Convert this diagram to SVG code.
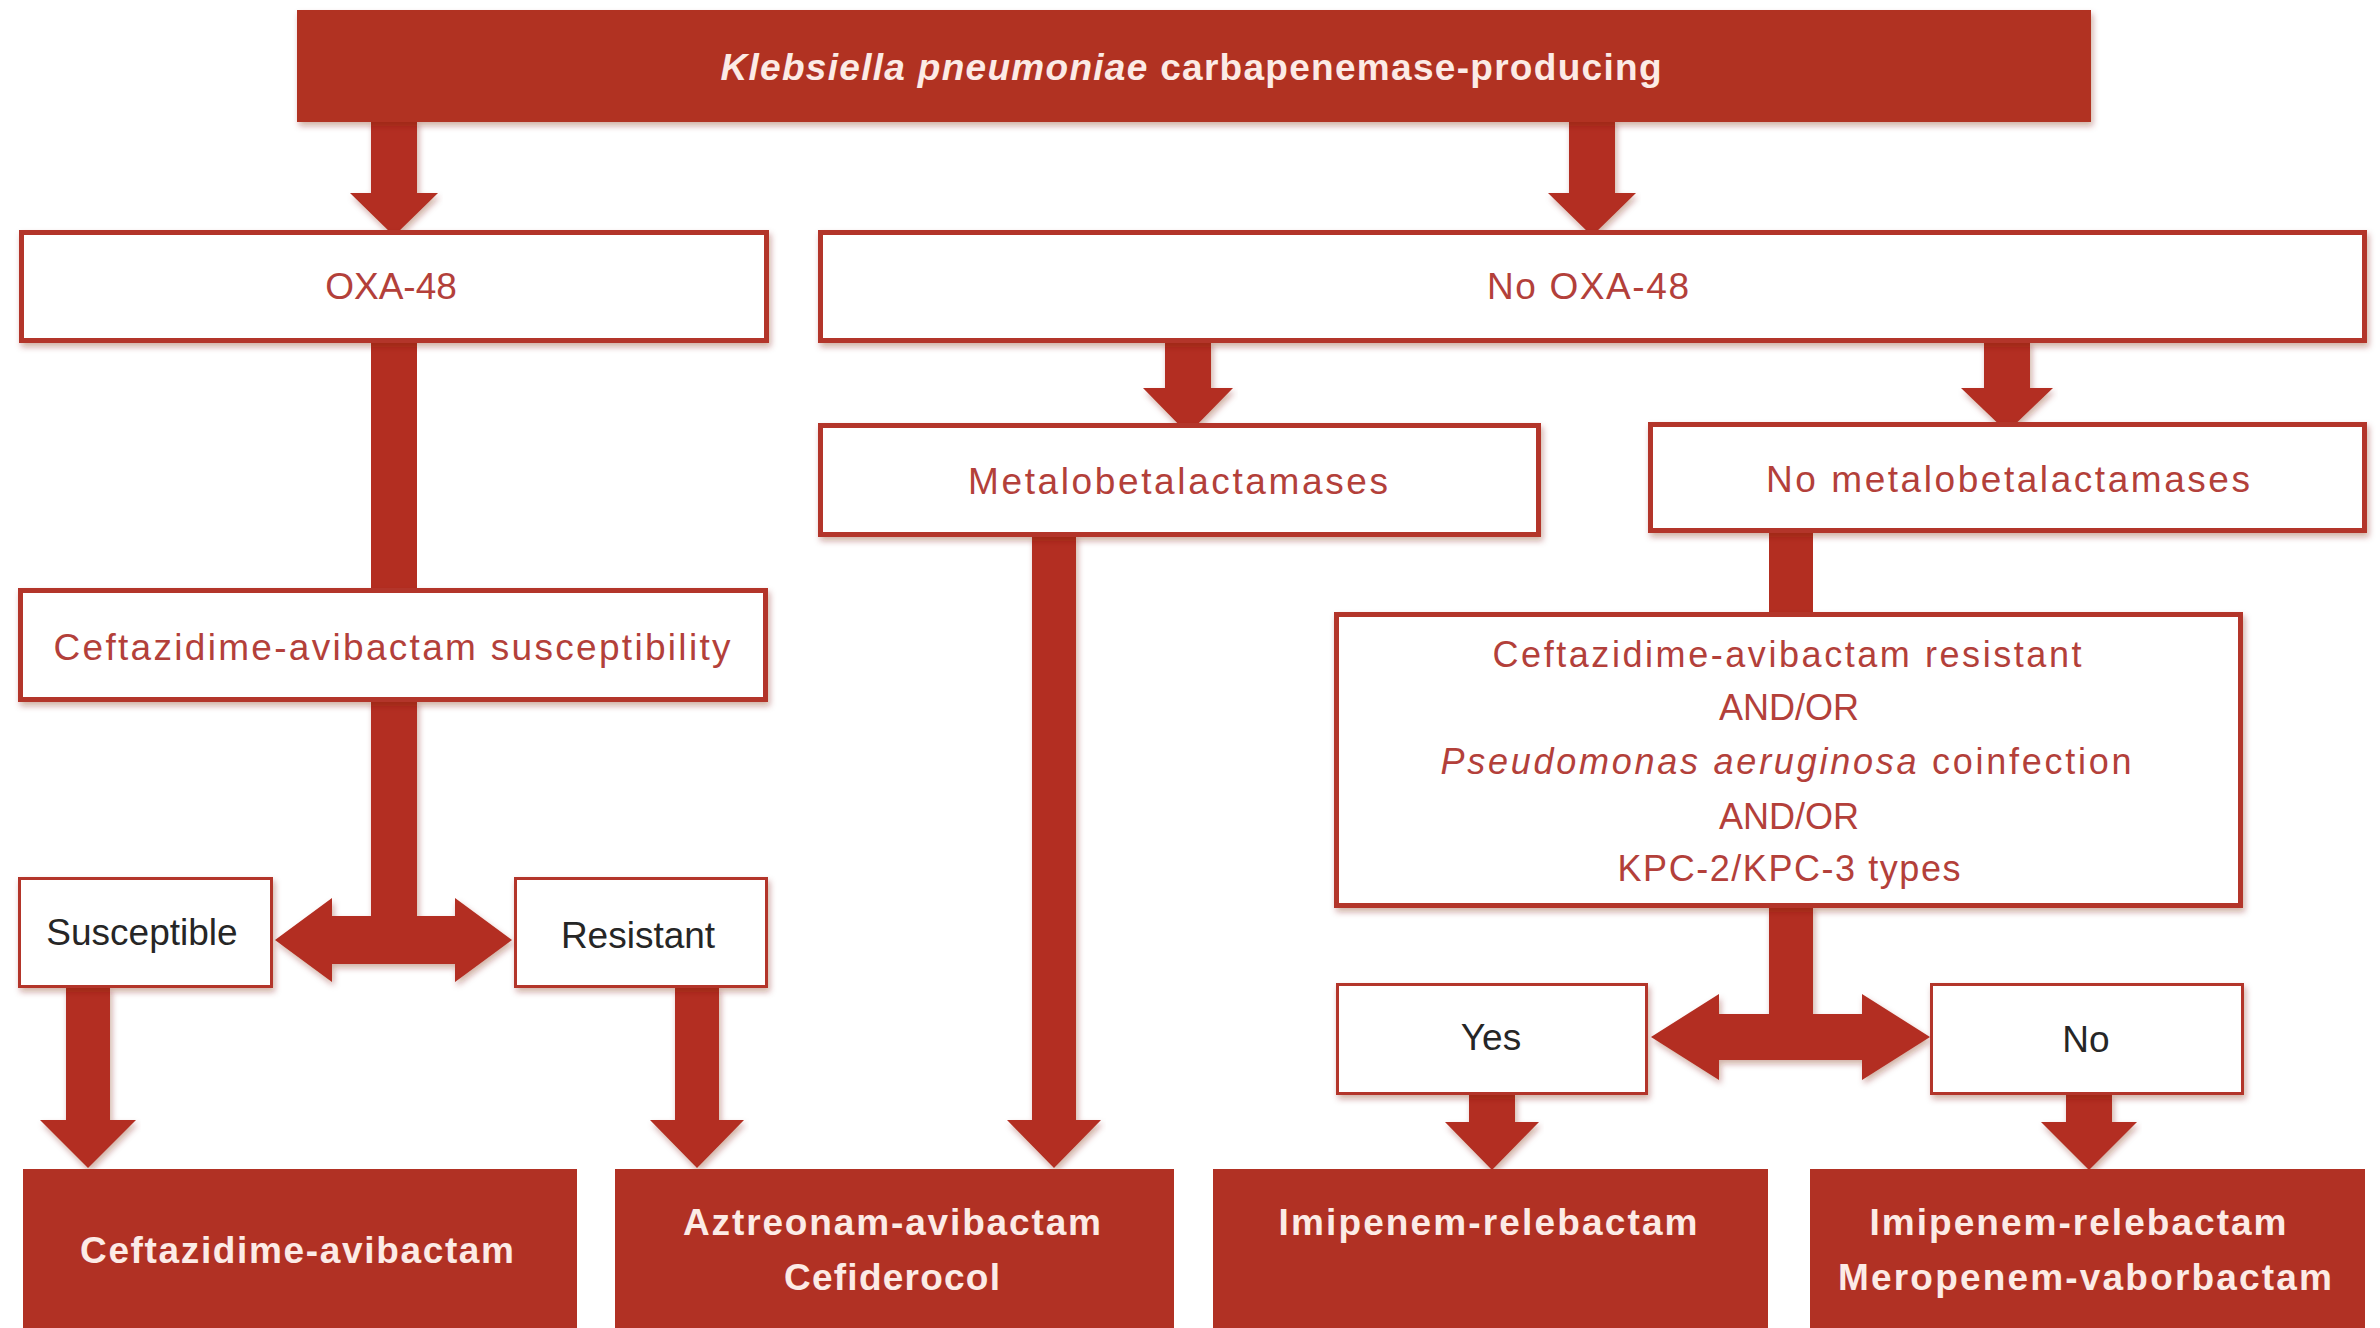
<svg xmlns="http://www.w3.org/2000/svg" width="2380" height="1328" viewBox="0 0 2380 1328">
<defs>
<filter id="sh" x="-5%" y="-10%" width="110%" height="130%">
<feDropShadow dx="2" dy="4" stdDeviation="3" flood-color="#7a1a10" flood-opacity="0.35"/>
</filter>
<style>
.fill{fill:#b13124;}
.arrow{fill:#b32e21;}
.wbox{fill:#ffffff;stroke:#b3352a;stroke-width:5;}
.wbox2{fill:#ffffff;stroke:#b3352a;stroke-width:3;}
text{font-family:"Liberation Sans",Arial,sans-serif;text-anchor:middle;}
.red{fill:#b3403a;font-size:37px;}
.red2{fill:#b3403a;font-size:36px;}
.blk{fill:#262626;font-size:37px;}
.wht{fill:#fcebe6;font-size:37px;font-weight:bold;}
.it{font-style:italic;}
</style>
</defs>
<rect width="2380" height="1328" fill="#ffffff"/>

<g id="connectors">
<polygon class="arrow" filter="url(#sh)" points="371,120 417,120 417,193 438,193 394,236 350,193 371,193"/>
<polygon class="arrow" filter="url(#sh)" points="1569,120 1615,120 1615,193 1636,193 1592,236 1548,193 1569,193"/>
<rect class="arrow" x="371" y="342" width="46" height="248"/>
<polygon class="arrow" filter="url(#sh)" points="275,940 332,898 332,916 371,916 371,700 417,700 417,916 455,916 455,898 512,940 455,982 455,964 332,964 332,982"/>
<polygon class="arrow" filter="url(#sh)" points="66,987 110,987 110,1120 136,1120 88,1168 40,1120 66,1120"/>
<polygon class="arrow" filter="url(#sh)" points="675,987 719,987 719,1120 744,1120 697,1168 650,1120 675,1120"/>
<polygon class="arrow" filter="url(#sh)" points="1032,535 1076,535 1076,1120 1101,1120 1054,1168 1007,1120 1032,1120"/>
<polygon class="arrow" filter="url(#sh)" points="1165,341 1211,341 1211,388 1233,388 1188,434 1143,388 1165,388"/>
<polygon class="arrow" filter="url(#sh)" points="1984,341 2030,341 2030,388 2053,388 2007,432 1961,388 1984,388"/>
<rect class="arrow" x="1769" y="531" width="44" height="83"/>
<polygon class="arrow" filter="url(#sh)" points="1651,1037 1719,994 1719,1014 1769,1014 1769,906 1813,906 1813,1014 1862,1014 1862,994 1930,1037 1862,1080 1862,1060 1719,1060 1719,1080"/>
<polygon class="arrow" filter="url(#sh)" points="1469,1094 1515,1094 1515,1122 1539,1122 1492,1170 1445,1122 1469,1122"/>
<polygon class="arrow" filter="url(#sh)" points="2066,1094 2112,1094 2112,1122 2137,1122 2089,1170 2041,1122 2066,1122"/>
</g>

<g id="node-kpc">
<rect class="fill" filter="url(#sh)" x="297" y="10" width="1794" height="112"/>
<text class="wht" x="1191" y="80" textLength="941" lengthAdjust="spacing"><tspan class="it">Klebsiella pneumoniae</tspan> carbapenemase-producing</text>
</g>

<g id="node-oxa48">
<rect class="wbox" filter="url(#sh)" x="21.5" y="232.5" width="745" height="108"/>
<text class="red" x="391" y="299">OXA-48</text>
</g>

<g id="node-no-oxa48">
<rect class="wbox" filter="url(#sh)" x="820.5" y="232.5" width="1544" height="108"/>
<text class="red" x="1588" y="299" textLength="202" lengthAdjust="spacing">No OXA-48</text>
</g>

<g id="node-cza-susceptibility">
<rect class="wbox" filter="url(#sh)" x="20.5" y="590.5" width="745" height="109"/>
<text class="red" x="392" y="660" textLength="677" lengthAdjust="spacing">Ceftazidime-avibactam susceptibility</text>
</g>

<g id="node-mbl">
<rect class="wbox" filter="url(#sh)" x="820.5" y="425.5" width="718" height="109"/>
<text class="red" x="1178" y="494" textLength="420" lengthAdjust="spacing">Metalobetalactamases</text>
</g>

<g id="node-no-mbl">
<rect class="wbox" filter="url(#sh)" x="1650.5" y="424.5" width="714" height="106"/>
<text class="red" x="2008" y="492" textLength="484" lengthAdjust="spacing">No metalobetalactamases</text>
</g>

<g id="node-criteria">
<rect class="wbox" filter="url(#sh)" x="1336.5" y="614.5" width="904" height="291"/>
<text class="red2" x="1787" y="667" textLength="589" lengthAdjust="spacing">Ceftazidime-avibactam resistant</text>
<text class="red2" x="1789" y="720">AND/OR</text>
<text class="red2" x="1786" y="774" textLength="691" lengthAdjust="spacing"><tspan class="it">Pseudomonas aeruginosa</tspan> coinfection</text>
<text class="red2" x="1789" y="829">AND/OR</text>
<text class="red2" x="1789" y="881" textLength="343" lengthAdjust="spacing">KPC-2/KPC-3 types</text>
</g>

<g id="node-susceptible">
<rect class="wbox2" filter="url(#sh)" x="19.5" y="878.5" width="252" height="108"/>
<text class="blk" x="142" y="945">Susceptible</text>
</g>

<g id="node-resistant">
<rect class="wbox2" filter="url(#sh)" x="515.5" y="878.5" width="251" height="108"/>
<text class="blk" x="638" y="948">Resistant</text>
</g>

<g id="node-yes">
<rect class="wbox2" filter="url(#sh)" x="1337.5" y="984.5" width="309" height="109"/>
<text class="blk" x="1491" y="1050">Yes</text>
</g>

<g id="node-no">
<rect class="wbox2" filter="url(#sh)" x="1931.5" y="984.5" width="311" height="109"/>
<text class="blk" x="2086" y="1052">No</text>
</g>

<g id="node-cza">
<rect class="fill" x="23" y="1169" width="554" height="170"/>
<text class="wht" x="297" y="1263" textLength="434" lengthAdjust="spacing">Ceftazidime-avibactam</text>
</g>

<g id="node-aza-fdc">
<rect class="fill" x="615" y="1169" width="559" height="170"/>
<text class="wht" x="892" y="1235" textLength="418" lengthAdjust="spacing">Aztreonam-avibactam</text>
<text class="wht" x="892" y="1290" textLength="216" lengthAdjust="spacing">Cefiderocol</text>
</g>

<g id="node-imi">
<rect class="fill" x="1213" y="1169" width="555" height="170"/>
<text class="wht" x="1488" y="1235" textLength="419" lengthAdjust="spacing">Imipenem-relebactam</text>
</g>

<g id="node-imi-mer">
<rect class="fill" x="1810" y="1169" width="555" height="170"/>
<text class="wht" x="2078" y="1235" textLength="417" lengthAdjust="spacing">Imipenem-relebactam</text>
<text class="wht" x="2085" y="1290" textLength="494" lengthAdjust="spacing">Meropenem-vaborbactam</text>
</g>
</svg>
